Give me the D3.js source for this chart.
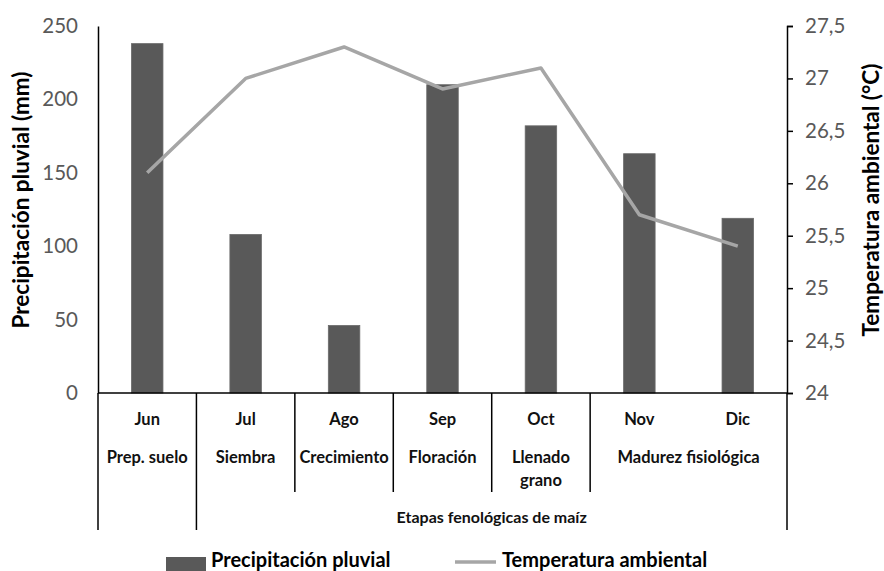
<!DOCTYPE html>
<html>
<head>
<meta charset="utf-8">
<script src="https://cdn.jsdelivr.net/npm/d3@7"></script>
<style>
  body { margin: 0; background: #fff; }
  text { font-family: Lato, "Open Sans", sans-serif; }
</style>
</head>
<body>
<script>
// data
let months = ['Jun', 'Jul', 'Ago', 'Sep', 'Oct', 'Nov', 'Dic'];
let rain = [238, 108, 46, 210, 182, 163, 119];
let temp = [26.1, 27.0, 27.3, 26.9, 27.1, 25.7, 25.4];
let stageLabels = ['Prep. suelo', 'Siembra', 'Crecimiento', 'Floración', 'Llenado|grano', 'Madurez fisiológica'];
let stageSpan = [1, 1, 1, 1, 1, 2];
let groupLabel = 'Etapas fenológicas de maíz';
let groupFrom = 1; // group covers Jul..Dic
let rainTicks = [0, 50, 100, 150, 200, 250];
let tempTicks = [24, 24.5, 25, 25.5, 26, 26.5, 27, 27.5];

const W = 884, H = 571;
const pLeft = 98, pRight = 787, pTop = 26, pBottom = 393;
const BAR = '#595959';
const LINE = '#a6a6a6';
const TXT = '#595959';

let svg = d3.select('body').append('svg')
    .attr('width', W)
    .attr('height', H);

let x = d3.scaleBand().domain(months).range([pLeft, pRight]).padding(0);
let yL = d3.scaleLinear().domain([0, 250]).range([pBottom, pTop]);
let yR = d3.scaleLinear().domain([24, 27.5]).range([pBottom, pTop]);
let barW = x.bandwidth() * 0.32;

// bars
svg.append('g').selectAll('rect')
    .data(rain)
    .join('rect')
        .attr('x', (d, i) => x(months[i]) + x.bandwidth() / 2 - barW / 2)
        .attr('y', d => yL(d))
        .attr('width', barW)
        .attr('height', d => yL(0) - yL(d))
        .attr('fill', BAR)
        .attr('stroke', '#6a6a6a')
        .attr('stroke-width', 0.8);

// temperature line
let line = d3.line()
    .x((d, i) => x(months[i]) + x.bandwidth() / 2)
    .y(d => yR(d));
svg.append('path')
    .datum(temp)
    .attr('d', line)
    .attr('fill', 'none')
    .attr('stroke', LINE)
    .attr('stroke-width', 3.5)
    .attr('stroke-linejoin', 'round');

// left axis
let axL = svg.append('g')
    .attr('transform', `translate(${pLeft},0)`)
    .call(d3.axisLeft(yL).tickValues(rainTicks).tickSize(0).tickPadding(20));
axL.select('.domain').attr('stroke', '#000').attr('stroke-width', 1.5);
axL.selectAll('text').attr('font-size', 20.5).attr('fill', TXT)
    .style('font-family', 'Lato, sans-serif');

// right axis
let fmt = d => String(d).replace('.', ',');
let axR = svg.append('g')
    .attr('transform', `translate(${pRight},0)`)
    .call(d3.axisRight(yR).tickValues(tempTicks).tickSize(6).tickPadding(12).tickFormat(fmt));
axR.select('.domain').attr('stroke', '#000').attr('stroke-width', 1.5);
axR.selectAll('line').attr('stroke', '#000').attr('stroke-width', 1.5);
axR.selectAll('text').attr('font-size', 20.5).attr('fill', TXT)
    .style('font-family', 'Lato, sans-serif');

// bottom axis line
svg.append('line')
    .attr('x1', pLeft).attr('x2', pRight)
    .attr('y1', yL(0)).attr('y2', yL(0))
    .attr('stroke', '#000').attr('stroke-width', 1.5);

// multi-level category labels
let cat = svg.append('g');
cat.selectAll('text.month')
    .data(months)
    .join('text')
        .attr('class', 'month')
        .attr('x', d => x(d) + x.bandwidth() / 2)
        .attr('y', 425)
        .attr('text-anchor', 'middle')
        .attr('font-size', 16.5)
        .attr('font-weight', 'bold')
        .attr('fill', '#111')
        .text(d => d);

let bounds = [0];
stageSpan.forEach(s => bounds.push(bounds[bounds.length - 1] + s));
let bx = i => i < months.length ? x(months[i]) : pRight;

stageLabels.forEach((lab, i) => {
    let cx = (bx(bounds[i]) + bx(bounds[i + 1])) / 2;
    lab.split('|').forEach((part, j) => {
        cat.append('text')
            .attr('x', cx)
            .attr('y', 463 + j * 23)
            .attr('text-anchor', 'middle')
            .attr('font-size', 16.5)
            .attr('font-weight', 'bold')
            .attr('fill', '#111')
            .text(part);
    });
});

// separators
bounds.forEach(b => {
    let full = (b == 0 || b == groupFrom || b == months.length);
    cat.append('line')
        .attr('x1', bx(b)).attr('x2', bx(b))
        .attr('y1', pBottom).attr('y2', full ? 530 : 492)
        .attr('stroke', '#000').attr('stroke-width', 1.5);
});

cat.append('text')
    .attr('x', (bx(groupFrom) + pRight) / 2)
    .attr('y', 523)
    .attr('text-anchor', 'middle')
    .attr('font-size', 16)
    .attr('font-weight', 'bold')
    .attr('fill', '#111')
    .text(groupLabel);

// axis titles
svg.append('text')
    .attr('transform', 'translate(29,200) rotate(-90)')
    .attr('text-anchor', 'middle')
    .attr('font-size', 22.5)
    .attr('font-weight', 'bold')
    .attr('fill', '#000')
    .text('Precipitación pluvial (mm)');
svg.append('text')
    .attr('transform', 'translate(879,200) rotate(-90)')
    .attr('text-anchor', 'middle')
    .attr('font-size', 22.5)
    .attr('font-weight', 'bold')
    .attr('fill', '#000')
    .text('Temperatura ambiental (°C)');

// legend
let leg = svg.append('g');
leg.append('rect')
    .attr('x', 166).attr('y', 557).attr('width', 40).attr('height', 14)
    .attr('fill', BAR);
leg.append('text')
    .attr('x', 211).attr('y', 567)
    .attr('font-size', 20).attr('font-weight', 'bold').attr('fill', '#000')
    .text('Precipitación pluvial');
leg.append('line')
    .attr('x1', 455).attr('x2', 496).attr('y1', 562).attr('y2', 562)
    .attr('stroke', LINE).attr('stroke-width', 3.5);
leg.append('text')
    .attr('x', 502).attr('y', 567)
    .attr('font-size', 20).attr('font-weight', 'bold').attr('fill', '#000')
    .text('Temperatura ambiental');
</script>
</body>
</html>
